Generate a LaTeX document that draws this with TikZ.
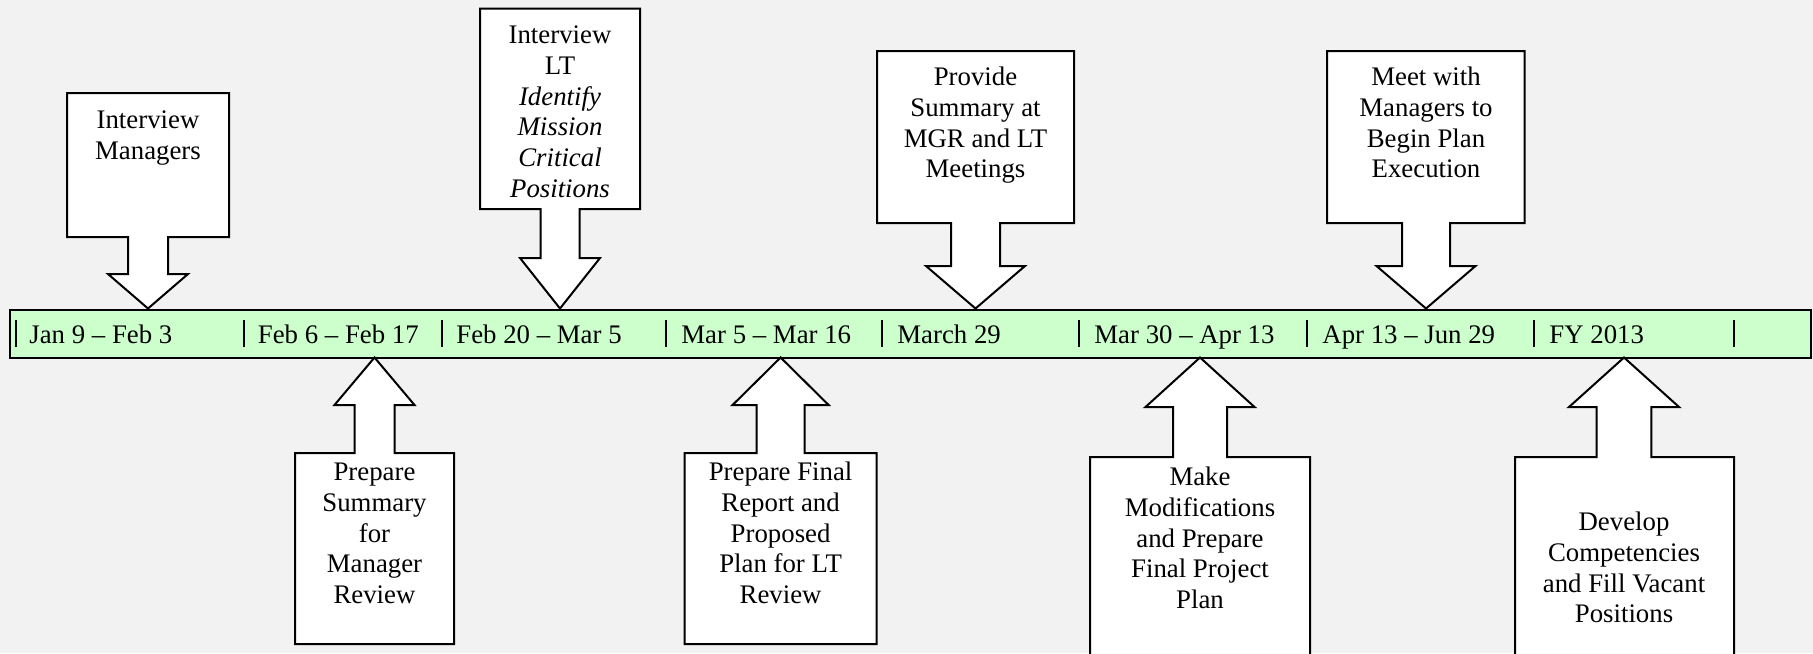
\documentclass[tikz,border=0pt]{standalone}
\usepackage{fontspec}
\setmainfont{Liberation Serif}
\definecolor{bg}{HTML}{F2F2F2}
\definecolor{barfill}{HTML}{CCFFCC}
\newcommand{\firstline}{\rule{0pt}{10pt}}
\tikzset{
  callout/.style={draw=black, fill=white, line width=1pt, line join=miter},
  lbl/.style={align=center, anchor=north, inner sep=0pt, font=\fontsize{13.4}{15.4}\selectfont},
  datelbl/.style={anchor=base west, inner sep=0pt, font=\fontsize{13.4}{15.4}\selectfont},
  divider/.style={line width=1pt},
  timebar/.style={draw=black, fill=barfill, line width=1pt, inner sep=0pt, anchor=north west,
                  minimum width=900.5pt, minimum height=24pt},
}
% #1 centre x, #2 left, #3 right, #4 far edge of box, #5 edge of box at the arrow,
% #6 shaft half width, #7 head half width, #8 head base y, #9 tip y
\newcommand{\mycallout}[9]{%
  \draw[callout] (#2,#4) -- (#3,#4) -- (#3,#5) -- ({#1+#6},#5) -- ({#1+#6},#8) -- ({#1+#7},#8)
    -- (#1,#9) -- ({#1-#7},#8) -- ({#1-#6},#8) -- ({#1-#6},#5) -- (#2,#5) -- cycle;}
\begin{document}
\begin{tikzpicture}[x=0.5pt,y=-0.5pt]
\useasboundingbox (0,0) rectangle (1813,653);
\fill[bg] (0,0) rectangle (1813,653);
\clip (0,0) rectangle (1813,653);

% time bar
\node[timebar] (bar) at (9,309) {};
\foreach \x in {15.5,244,441.5,666,882,1079,1307,1534,1734}
  \draw[divider] (\x,320) -- (\x,347);
\node[datelbl] (d1) at (29,343) {Jan 9 -- Feb 3};
\node[datelbl] (d2) at (257.5,343) {Feb 6 -- Feb 17};
\node[datelbl] (d3) at (456,343) {Feb 20 -- Mar 5};
\node[datelbl] (d4) at (681,343) {Mar 5 -- Mar 16};
\node[datelbl] (d5) at (897,343) {March 29};
\node[datelbl] (d6) at (1094,343) {Mar 30 -- Apr 13};
\node[datelbl] (d7) at (1322,343) {Apr 13 -- Jun 29};
\node[datelbl] (d8) at (1549,343) {FY 2013};

% callouts above the bar
\mycallout{148}{67}{229}{93}{237}{20}{40}{274}{308.5}
\mycallout{560}{480}{640}{8.5}{209}{19.5}{40}{258}{308.5}
\mycallout{975.5}{877}{1074}{51}{223}{24.5}{49.5}{266}{308.5}
\mycallout{1426}{1327}{1524.5}{51}{223}{24}{49.5}{266}{308.5}

% callouts below the bar
\mycallout{374.5}{295}{454}{644}{453}{20}{40}{405}{357.5}
\mycallout{780.6}{684.5}{876.7}{644}{453}{24}{48}{405}{357.5}
\mycallout{1200}{1090}{1310}{720}{457}{27}{54.5}{407}{357.5}
\mycallout{1624}{1515}{1734}{720}{457}{27.3}{55}{407}{357.5}

% callout texts (first baseline = y + 20)
\node[lbl] (t1) at (148,108) {\firstline Interview\\Managers};
\node[lbl] (t2) at (560,23) {\firstline Interview\\LT\\\textit{Identify}\\\textit{Mission}\\\textit{Critical}\\\textit{Positions}};
\node[lbl] (t3) at (975.5,65) {\firstline Provide\\Summary at\\MGR and LT\\Meetings};
\node[lbl] (t4) at (1426,65) {\firstline Meet with\\Managers to\\Begin Plan\\Execution};
\node[lbl] (t5) at (374.5,460) {\firstline Prepare\\Summary\\for\\Manager\\Review};
\node[lbl] (t6) at (780.6,460) {\firstline Prepare Final\\Report and\\Proposed\\Plan for LT\\Review};
\node[lbl] (t7) at (1200,465) {\firstline Make\\Modifications\\and Prepare\\Final Project\\Plan};
\node[lbl] (t8) at (1624,510) {\firstline Develop\\Competencies\\and Fill Vacant\\Positions};
\end{tikzpicture}
\end{document}
